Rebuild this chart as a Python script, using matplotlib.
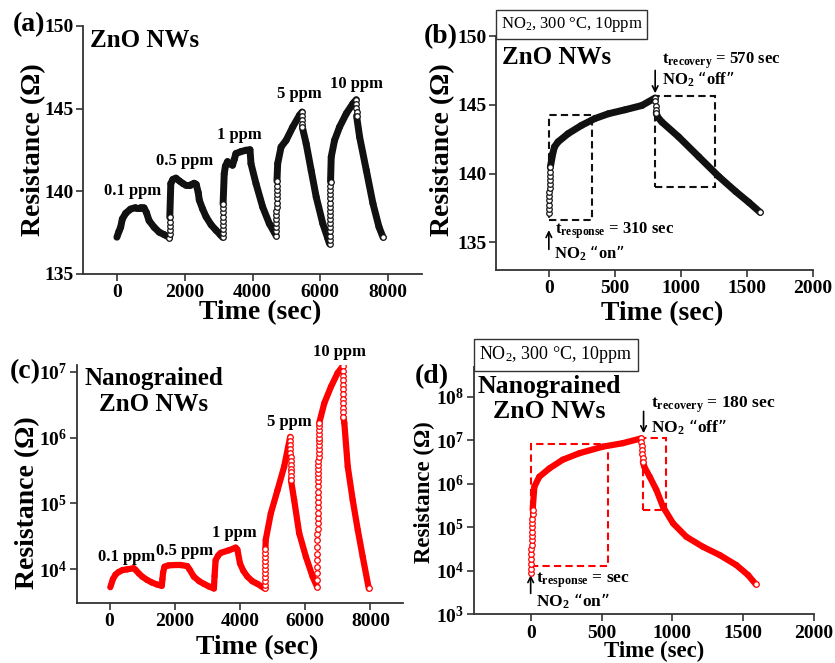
import numpy as np
import matplotlib.pyplot as plt
from matplotlib.collections import LineCollection
from matplotlib.patches import Rectangle

plt.rcParams['font.family'] = 'Liberation Serif'
plt.rcParams['font.weight'] = 'bold'
plt.rcParams['mathtext.default'] = 'regular'
plt.rcParams['axes.linewidth'] = 1.3

# (a) ZnO NWs, 0.1 - 10 ppm cycles
a_t = [0, 60, 110, 160, 260, 400, 550, 700, 800, 870, 950, 1100, 1250, 1400, 1550,
       1552, 1554, 1556, 1558, 1560,
       1590, 1650, 1740, 1850, 1950, 2030, 2150, 2280, 2340, 2400, 2430, 2530, 2630, 2780, 2920, 3050, 3116,
       3118, 3120, 3122, 3124, 3126, 3128, 3130, 3132,
       3166, 3200, 3263, 3330, 3411, 3460, 3511, 3650, 3807, 3926, 3955, 4103, 4300, 4497, 4695,
       4697, 4699, 4701, 4703, 4705, 4707, 4709, 4711, 4713, 4715, 4717, 4719, 4721,
       4743, 4843, 4991, 5187, 5385, 5464,
       5466, 5468, 5470, 5472,
       5583, 5731, 5879, 6074, 6222, 6272,
       6274, 6276, 6278, 6280, 6282, 6284, 6286, 6288, 6290, 6292, 6294, 6296, 6298, 6300, 6302,
       6322, 6420, 6568, 6766, 6962, 7062,
       7064, 7066, 7068, 7070,
       7160, 7358, 7553, 7731, 7849]
a_r = [137.2, 137.55, 137.8, 138.3, 138.65, 138.9, 139.0, 139.0, 138.98, 138.7, 138.2, 137.8, 137.5, 137.35, 137.18,
       137.4, 137.65, 137.9, 138.15, 138.4,
       140.45, 140.7, 140.78, 140.6, 140.45, 140.35, 140.35, 140.47, 140.4, 139.9, 139.45, 138.9, 138.44, 137.95, 137.63, 137.35, 137.2,
       137.45, 137.7, 137.95, 138.2, 138.45, 138.7, 138.95, 139.2,
       141.05, 141.5, 141.78, 141.65, 141.56, 141.9, 142.27, 142.38, 142.47, 142.5, 141.66, 140.45, 139.03, 138.02, 137.3,
       137.55, 137.8, 138.05, 138.3, 138.55, 138.8, 139.05, 139.3, 139.55, 139.8, 140.05, 140.3, 140.6,
       141.66, 142.67, 143.07, 143.88, 144.59, 144.79,
       144.55, 144.3, 144.05, 143.85,
       142.87, 141.25, 139.64, 138.02, 137.12, 136.8,
       137.05, 137.3, 137.55, 137.8, 138.05, 138.3, 138.55, 138.8, 139.05, 139.3, 139.55, 139.8, 140.05, 140.3, 140.55,
       142.06, 143.07, 143.88, 144.69, 145.3, 145.54,
       145.3, 145.05, 144.8, 144.55,
       143.27, 141.25, 139.24, 137.82, 137.2]
a_labels = ['0.1 ppm', '0.5 ppm', '1 ppm', '5 ppm', '10 ppm']
a_label_t = [453, 2003, 3609, 5385, 7080]
a_label_r = [140.0, 141.8, 143.38, 145.9, 146.5]

# (b) ZnO NWs, single 10 ppm pulse
b_t = [0, 1, 2, 3, 4, 5, 6, 7, 8, 9, 10, 11,
       30, 43, 69, 145, 246, 348, 450, 577, 704, 805,
       807, 809, 811, 813,
       825, 856, 983, 1135, 1288, 1415, 1516, 1600]
b_r = [137.14, 137.45, 137.75, 138.05, 138.35, 138.65, 138.95, 139.25, 139.55, 139.85, 140.15, 140.45,
       141.47, 141.95, 142.3, 142.9, 143.5, 144.0, 144.35, 144.64, 144.95, 145.5,
       145.25, 144.95, 144.65, 144.4,
       144.1, 143.75, 142.67, 141.23, 139.78, 138.7, 137.9, 137.19]

# (c) nanograined ZnO NWs, log10 of resistance
c_t = [22, 100, 180, 277, 400, 535, 740, 800, 894, 1000, 1150, 1300, 1458, 1600,
       1620, 1640, 1683, 1800, 2000, 2175, 2380, 2450, 2585, 2750, 2892, 3050, 3200,
       3220, 3252, 3330, 3405, 3662, 3868, 3920, 4000, 4100, 4227, 4380, 4535, 4760,
       4762, 4764, 4766, 4768, 4770, 4772, 4774, 4776, 4778, 4780,
       4790, 4945, 5150, 5355, 5540,
       5542, 5544, 5546, 5548, 5550, 5552, 5554, 5556, 5558, 5560, 5562,
       5662, 5815, 6022, 6227, 6360,
       6362, 6364, 6366, 6368, 6370, 6372, 6374, 6376, 6378, 6380, 6382, 6384, 6386, 6388, 6390, 6392,
       6394, 6396, 6398, 6400, 6402, 6404, 6406, 6408, 6410, 6412, 6414, 6416, 6418, 6420, 6422, 6424,
       6430, 6585, 6790, 6995, 7150,
       7152, 7154, 7156, 7158, 7160, 7162, 7164, 7166, 7168, 7170, 7172,
       7200, 7305, 7458, 7612, 7765, 7950]
c_logr = [3.73, 3.85, 3.92, 3.96, 3.99, 4.0, 4.017, 3.99, 3.94, 3.89, 3.84, 3.80, 3.77, 3.75,
          3.85, 3.95, 4.04, 4.06, 4.066, 4.066, 4.05, 4.0, 3.89, 3.82, 3.78, 3.74, 3.71,
          3.9, 4.14, 4.21, 4.25, 4.29, 4.33, 4.3, 4.09, 3.98, 3.89, 3.82, 3.78, 3.71,
          3.77, 3.83, 3.89, 3.95, 4.01, 4.07, 4.13, 4.19, 4.25, 4.31,
          4.45, 4.85, 5.2, 5.56, 6.01,
          5.95, 5.89, 5.83, 5.77, 5.71, 5.65, 5.59, 5.53, 5.47, 5.41, 5.36,
          5.05, 4.55, 4.19, 3.89, 3.74,
          3.84, 3.94, 4.04, 4.14, 4.24, 4.34, 4.44, 4.54, 4.62, 4.70, 4.78, 4.86, 4.94, 5.02, 5.10, 5.18,
          5.26, 5.34, 5.40, 5.46, 5.52, 5.58, 5.64, 5.70, 5.76, 5.82, 5.88, 5.94, 6.00, 6.06, 6.12, 6.18,
          6.22, 6.52, 6.77, 6.98, 7.08,
          7.01, 6.94, 6.87, 6.80, 6.73, 6.66, 6.59, 6.52, 6.45, 6.38, 6.31,
          6.22, 5.56, 5.05, 4.6, 4.19, 3.71]
c_label_t = [514, 2308, 3815, 5508, 7046]
c_label_logr = [4.19, 4.28, 4.55, 6.24, 7.29]

# (d) nanograined ZnO NWs, single 10 ppm pulse, log10 of resistance
d_t = [0, 1, 2, 3, 4, 5, 6, 7, 8, 9, 10, 11, 12, 13, 14,
       26, 61, 132, 226, 344, 509, 650, 780,
       782, 784, 786, 788, 790, 792,
       802, 840, 887, 934, 1005, 1099, 1216, 1335, 1452, 1535, 1589]
d_logr = [3.94, 4.05, 4.16, 4.27, 4.38, 4.49, 4.6, 4.7, 4.8, 4.9, 5.0, 5.1, 5.2, 5.3, 5.4,
          5.93, 6.16, 6.35, 6.55, 6.70, 6.85, 6.93, 7.04,
          6.95, 6.86, 6.77, 6.68, 6.59, 6.5,
          6.39, 6.16, 5.86, 5.47, 5.09, 4.78, 4.55, 4.36, 4.13, 3.90, 3.69]

W, H = 835, 663
fig = plt.figure(figsize=(W / 100, H / 100), dpi=100)


def make_axes(x0, y0, x1, y1):
    ax = fig.add_axes([x0 / W, 1 - y1 / H, (x1 - x0) / W, (y1 - y0) / H])
    for s in ['top', 'right']:
        ax.spines[s].set_visible(False)
    for s in ['left', 'bottom']:
        ax.spines[s].set_color('#333333')
    ax.tick_params(direction='out', length=5, width=1.2, color='#333333', labelsize=14)
    ax.tick_params(axis='y', pad=2)
    ax.tick_params(axis='x', pad=2.5)
    return ax


def band(ax, t, r, color, lw):
    # dense stretches drawn as a thick band, fast steps as separate open circles
    t = np.asarray(t, float)
    r = np.asarray(r, float)
    step = np.diff(t) <= 6
    segs = [np.column_stack([t[i:i + 2], r[i:i + 2]]) for i in range(len(t) - 1) if not step[i]]
    ax.add_collection(LineCollection(segs, colors=color, linewidths=lw,
                                     capstyle='round', joinstyle='round', zorder=3))
    mk = np.zeros(len(t), bool)
    mk[:-1] |= step
    mk[1:] |= step
    mk[-1] = True
    ax.plot(t[mk], r[mk], 'o', ms=4, mfc='white', mec=color, mew=0.9, ls='none', zorder=4)


def labels(ax, xl, yl, size=20):
    ax.set_xlabel('Time (sec)', fontsize=size, fontweight='bold', va='center')
    ax.set_ylabel('Resistance (Ω)', fontsize=size, fontweight='bold', va='center')
    ax.xaxis.set_label_coords(*xl)
    ax.yaxis.set_label_coords(*yl)
    for lab in ax.get_xticklabels() + ax.get_yticklabels():
        lab.set_fontweight('bold')


# ---- (a)
ax = make_axes(83, 26, 422, 273.5)
band(ax, a_t, a_r, '#111111', 5)
ax.set_xlim(-1000, 9000)
ax.set_ylim(135, 150)
ax.set_xticks([0, 2000, 4000, 6000, 8000])
ax.set_yticks([135, 140, 145, 150])
for s, x, y in zip(a_labels, a_label_t, a_label_r):
    ax.text(x, y, s, fontsize=12, ha='center', va='center')
ax.text(0.02, 0.943, 'ZnO NWs', transform=ax.transAxes, fontsize=18, va='center')
labels(ax, (0.522, -0.16), (-0.147, 0.5))

# ---- (b)
ax = make_axes(496, 36, 813, 270)
band(ax, b_t, b_r, '#111111', 5)
ax.set_xlim(-400, 2000)
ax.set_ylim(133, 150)
ax.set_xticks([0, 500, 1000, 1500, 2000])
ax.set_yticks([135, 140, 145, 150])
ax.add_patch(Rectangle((0, 136.6), 324, 7.65, fill=False, ec='#111111', lw=1.5, ls=(0, (3.5, 2))))
ax.add_patch(Rectangle((800, 139.0), 455, 6.67, fill=False, ec='#111111', lw=1.5, ls=(0, (3.5, 2))))
ax.text(0.238, 1.049, 'NO$_2$, 300 °C, 10ppm', transform=ax.transAxes, fontsize=12, fontweight='normal',
        ha='center', va='center', bbox=dict(boxstyle='square,pad=0.3', fc='white', ec='#333333', lw=1))
ax.text(0.019, 0.91, 'ZnO NWs', transform=ax.transAxes, fontsize=18, va='center')
ax.annotate('', xy=(805, 145.84), xytext=(805, 147.5),
            arrowprops=dict(arrowstyle='->', lw=1.2, color='black', shrinkA=0, shrinkB=0))
ax.text(856, 148.2, '$t_{recovery}$ = 570 sec', fontsize=12, va='center')
ax.text(856, 146.83, 'NO$_2$ “off”', fontsize=12, va='center')
ax.annotate('', xy=(0, 135.9), xytext=(0, 134.5),
            arrowprops=dict(arrowstyle='->', lw=1.2, color='black', shrinkA=0, shrinkB=0))
ax.text(43, 135.85, '$t_{response}$ = 310 sec', fontsize=12, va='center')
ax.text(38, 134.2, 'NO$_2$ “on”', fontsize=12, va='center')
labels(ax, (0.524, -0.185), (-0.167, 0.513))

# ---- (c)
ax = make_axes(77, 365, 403, 603)
ax.set_yscale('log')
band(ax, c_t, 10 ** np.asarray(c_logr), '#ff0000', 4.5)
ax.set_xlim(-1000, 9000)
ax.set_ylim(10 ** 3.49, 10 ** 7.1)
ax.set_xticks([0, 2000, 4000, 6000, 8000])
ax.set_yticks([1e4, 1e5, 1e6, 1e7])
ax.minorticks_off()
for s, x, y in zip(a_labels, c_label_t, c_label_logr):
    ax.text(x, 10 ** y, s, fontsize=12, ha='center', va='center')
ax.text(0.236, 0.888, 'Nanograined\nZnO NWs', transform=ax.transAxes, fontsize=18,
        ha='center', va='center', multialignment='center', linespacing=1.2)
labels(ax, (0.552, -0.189), (-0.153, 0.42))

# ---- (d)
ax = make_axes(474, 367, 814, 614.3)
ax.set_yscale('log')
band(ax, d_t, 10 ** np.asarray(d_logr), '#ff0000', 4.5)
ax.set_xlim(-400, 2000)
ax.set_ylim(1e3, 10 ** 8.68)
ax.set_xticks([0, 500, 1000, 1500, 2000])
ax.set_yticks([1e3, 1e4, 1e5, 1e6, 1e7, 1e8])
ax.minorticks_off()
ax.add_patch(Rectangle((0, 1.3e4), 549, 8.1e6 - 1.3e4, fill=False, ec='#ff0000', lw=1.5, ls=(0, (3.5, 2))))
ax.add_patch(Rectangle((792, 2.5e5), 166, 1.1e7 - 2.5e5, fill=False, ec='#ff0000', lw=1.5, ls=(0, (3.5, 2))))
ax.text(0.24, 1.05, 'NO$_2$, 300 °C, 10ppm', transform=ax.transAxes, fontsize=13, fontweight='normal',
        ha='center', va='center', bbox=dict(boxstyle='square,pad=0.3', fc='white', ec='#333333', lw=1))
ax.text(0.22, 0.871, 'Nanograined\nZnO NWs', transform=ax.transAxes, fontsize=18.5,
        ha='center', va='center', multialignment='center', linespacing=1.15)
ax.annotate('', xy=(797, 10 ** 7.16), xytext=(797, 10 ** 7.66),
            arrowprops=dict(arrowstyle='->', lw=1.2, color='black', shrinkA=0, shrinkB=0))
ax.text(850, 10 ** 7.81, '$t_{recovery}$ = 180 sec', fontsize=12.5, va='center')
ax.text(850, 10 ** 7.3, 'NO$_2$ “off”', fontsize=12.5, va='center')
ax.annotate('', xy=(0, 10 ** 3.9), xytext=(0, 10 ** 3.48),
            arrowprops=dict(arrowstyle='->', lw=1.2, color='black', shrinkA=0, shrinkB=0))
ax.text(38, 10 ** 3.78, '$t_{response}$ = sec', fontsize=12.5, va='center')
ax.text(38, 10 ** 3.3, 'NO$_2$ “on”', fontsize=12.5, va='center')
labels(ax, (0.529, -0.152), (-0.147, 0.496), size=16.5)

# panel letters
for s, x, y in [('(a)', 29, 25), ('(b)', 441, 37), ('(c)', 25, 372), ('(d)', 432, 377)]:
    fig.text(x / W, 1 - y / H, s, fontsize=20, ha='center', va='center')

fig.savefig('out.png', dpi=100)
